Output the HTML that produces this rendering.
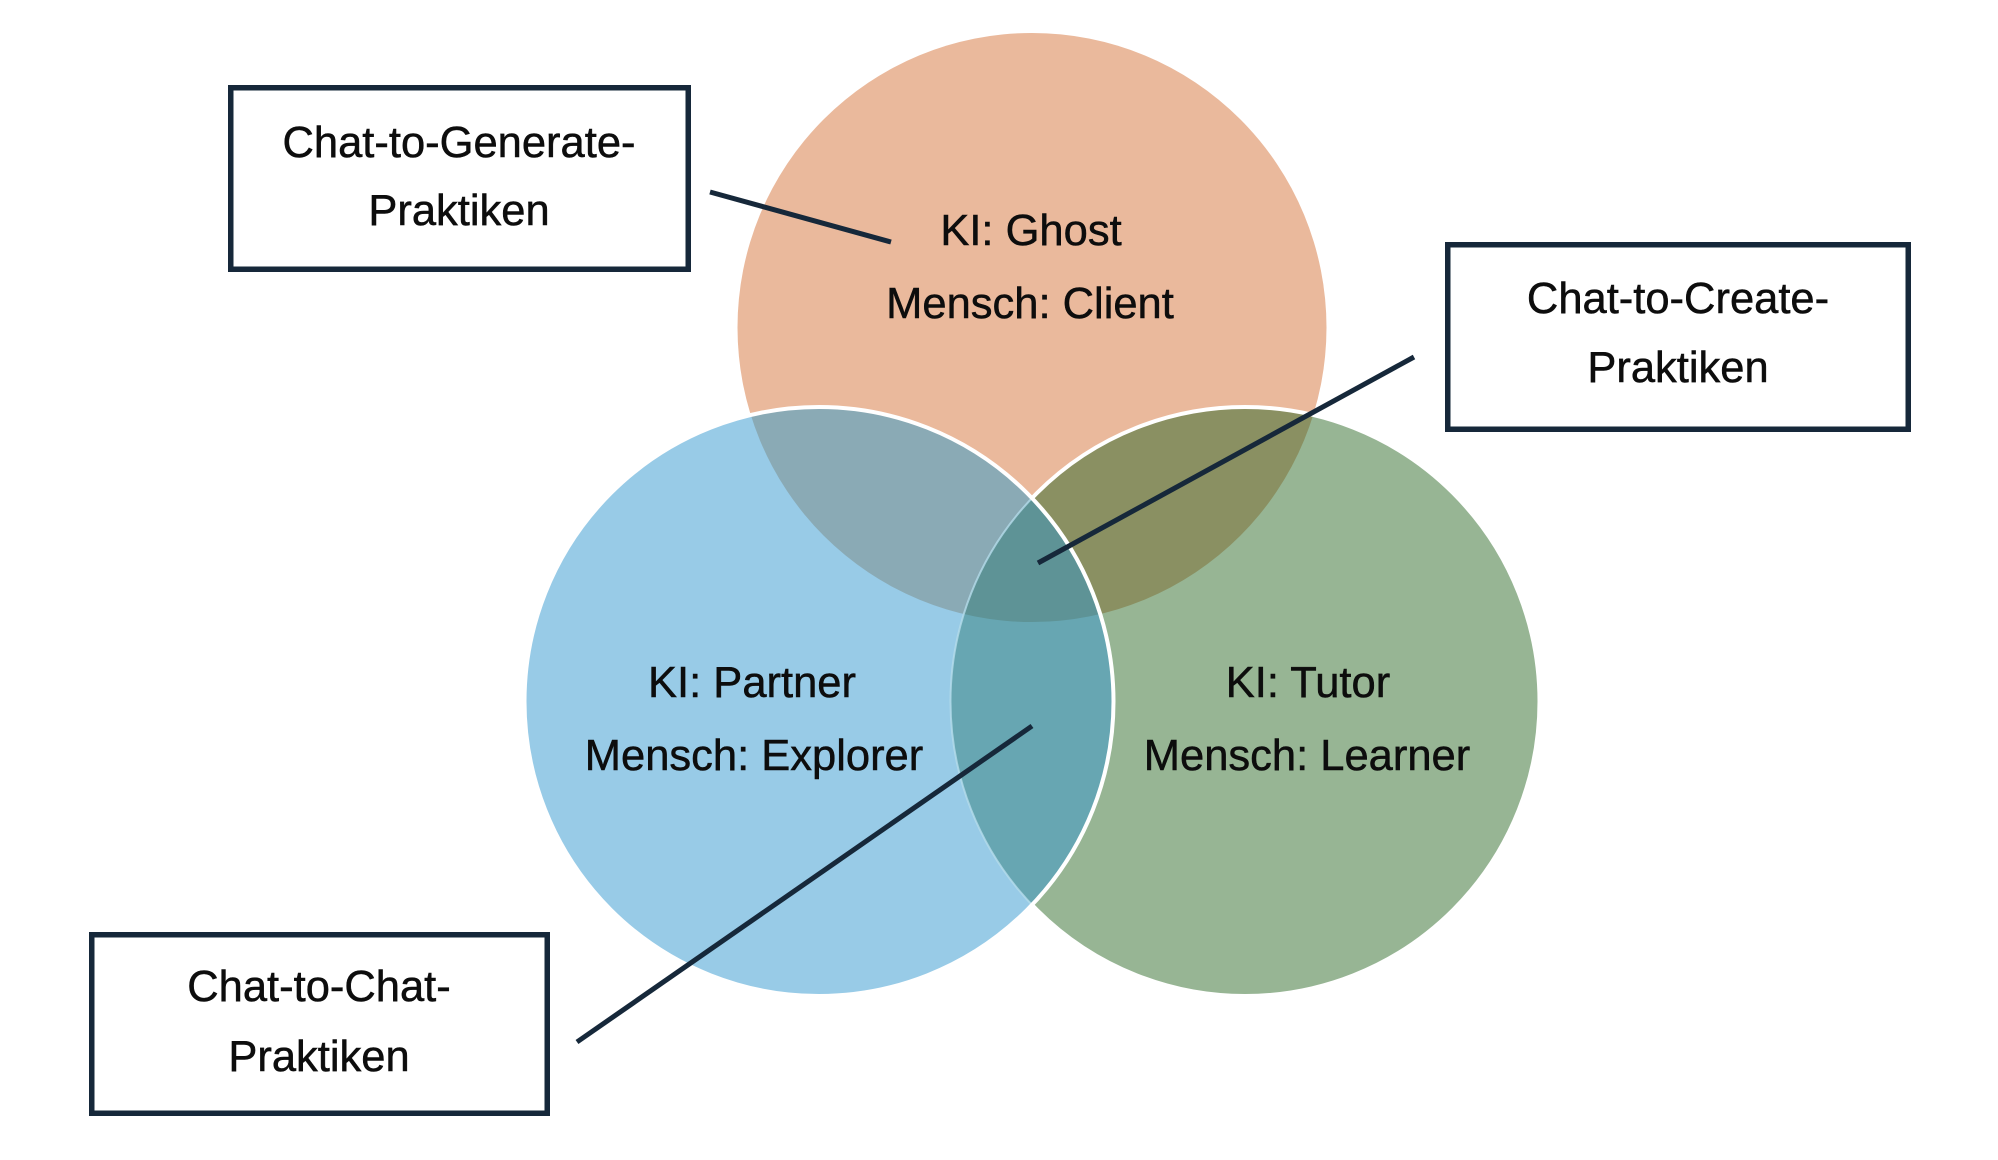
<!DOCTYPE html>
<html>
<head>
<meta charset="utf-8">
<style>
  html,body{margin:0;padding:0;background:#fff;}
  svg{display:block;}
  text{font-family:"Liberation Sans",Arial,sans-serif;font-size:43.5px;fill:#0d0d0d;stroke:#0d0d0d;stroke-width:0.5px;text-anchor:middle;}
</style>
</head>
<body>
<svg width="1998" height="1160" viewBox="0 0 1998 1160" xmlns="http://www.w3.org/2000/svg">
  <defs>
    <clipPath id="cO"><circle cx="1032" cy="327.5" r="294.5"/></clipPath>
    <clipPath id="cB"><circle cx="819" cy="701.5" r="294.5"/></clipPath>
    <clipPath id="cG"><circle cx="1245" cy="701.5" r="294.5"/></clipPath>
    <mask id="mNotB" maskUnits="userSpaceOnUse" x="0" y="0" width="1998" height="1160">
      <rect x="0" y="0" width="1998" height="1160" fill="#fff"/>
      <circle cx="819" cy="701.5" r="294.5" fill="#000"/>
    </mask>
  </defs>

  <!-- base circles -->
  <circle cx="1032" cy="327.5" r="294.5" fill="#EAB99C"/>
  <circle cx="1245" cy="701.5" r="294.5" fill="#97B594"/>
  <circle cx="819" cy="701.5" r="294.5" fill="#98CBE7"/>

  <!-- orange ∩ blue -->
  <g clip-path="url(#cO)"><circle cx="819" cy="701.5" r="294.5" fill="#8AAAB5"/></g>
  <!-- orange ∩ green -->
  <g clip-path="url(#cO)"><circle cx="1245" cy="701.5" r="294.5" fill="#8A9062"/></g>
  <!-- blue ∩ green -->
  <g clip-path="url(#cB)"><circle cx="1245" cy="701.5" r="294.5" fill="#67A6B2"/></g>
  <!-- triple -->
  <g clip-path="url(#cO)"><g clip-path="url(#cB)"><circle cx="1245" cy="701.5" r="294.5" fill="#5E9396"/></g></g>

  <!-- outlines -->
  <g mask="url(#mNotB)"><circle cx="1245" cy="701.5" r="294.5" fill="none" stroke="#fff" stroke-width="4"/></g>
  <g clip-path="url(#cB)"><circle cx="1245" cy="701.5" r="294.5" fill="none" stroke="#B5DCEB" stroke-width="2" opacity="0.8"/></g>
  <circle cx="819" cy="701.5" r="294.5" fill="none" stroke="#fff" stroke-width="4"/>

  <!-- connectors -->
  <g stroke="#16283A" stroke-width="5" stroke-linecap="butt">
    <line x1="710" y1="192" x2="891" y2="242"/>
    <line x1="1414" y1="357" x2="1038" y2="563"/>
    <line x1="1032" y1="726" x2="577" y2="1042"/>
  </g>

  <!-- boxes -->
  <g fill="#fff" stroke="#16283A" stroke-width="5.5">
    <rect x="230.75" y="87.75" width="457.5" height="181.5"/>
    <rect x="1447.75" y="244.75" width="460.5" height="184.5"/>
    <rect x="91.75" y="934.75" width="455.5" height="178.5"/>
  </g>

  <!-- box labels -->
  <text x="459" y="157">Chat-to-Generate-</text>
  <text x="459" y="225">Praktiken</text>
  <text x="1678" y="313">Chat-to-Create-</text>
  <text x="1678" y="382">Praktiken</text>
  <text x="319" y="1001">Chat-to-Chat-</text>
  <text x="319" y="1071">Praktiken</text>

  <!-- circle labels -->
  <text x="1031" y="245">KI: Ghost</text>
  <text x="1030" y="318">Mensch: Client</text>
  <text x="752" y="697">KI: Partner</text>
  <text x="754" y="770">Mensch: Explorer</text>
  <text x="1308" y="697">KI: Tutor</text>
  <text x="1307" y="770">Mensch: Learner</text>
</svg>
</body>
</html>
